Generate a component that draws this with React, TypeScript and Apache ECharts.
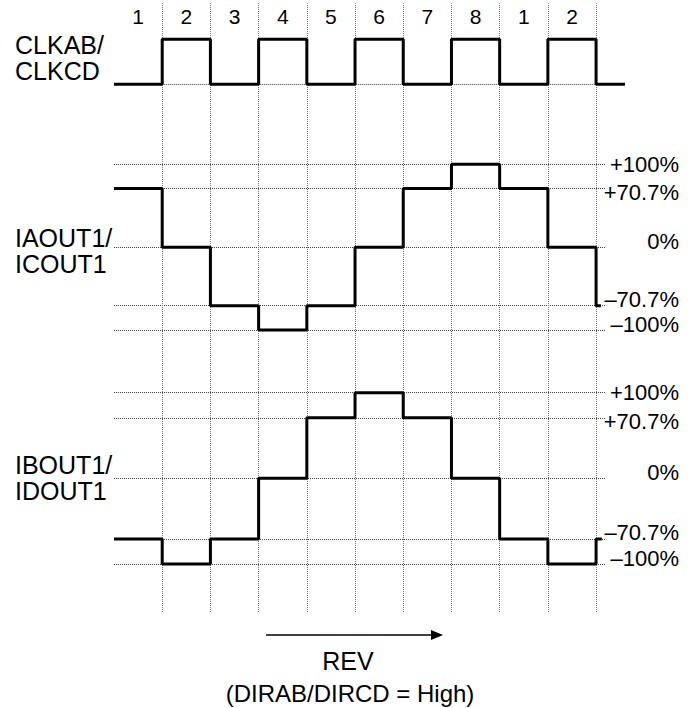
import React, { useEffect, useRef } from "react";
import * as echarts from "echarts";

// ---- data ----
const periodLabels = ["1", "2", "3", "4", "5", "6", "7", "8", "1", "2"];
const clkLevels = [0, 1, 0, 1, 0, 1, 0, 1, 0, 1, 0];
const iaLevels = [70.7, 0, -70.7, -100, -70.7, 0, 70.7, 100, 70.7, 0, -70.7];
const ibLevels = [-70.7, -100, -70.7, 0, 70.7, 100, 70.7, 0, -70.7, -100, -70.7];
const clkTailEnd = 10.6;
const iaTailEnd = 10.1;
const ibTailEnd = 10.12;
const levelTicks = [100, 70.7, 0, -70.7, -100];
const levelLabels = ["+100%", "+70.7%", "0%", "\u201370.7%", "\u2013100%"];
const clockLow = 0;
const gridMarks = [1, 2, 3, 4, 5, 6, 7, 8, 9, 10];
const signalNames = ["CLKAB/\nCLKCD", "IAOUT1/\nICOUT1", "IBOUT1/\nIDOUT1"];
const directionLabel = "REV";
const directionNote = "(DIRAB/DIRCD = High)";

const FONT = "'Liberation Sans', Arial, sans-serif";
const X_MAX = 10.6;
const LEVEL_END = 10.2;

function toSteps(levels: number[], tailEnd: number) {
  const pts: number[][] = levels.map((v, i) => [i, v]);
  pts.push([tailEnd, levels[levels.length - 1]]);
  return pts;
}

function levelLabel(v: number) {
  const i = levelTicks.indexOf(v);
  const t = i >= 0 ? levelLabels[i] : "";
  if (v === 100) return t;
  if (v > 0) return `{p|${t}}`;
  return `{n|${t}}`;
}

export default function App() {
  const ref = useRef<HTMLDivElement>(null);
  useEffect(() => {
    document.body.style.margin = "0";
    const chart = echarts.init(ref.current!, undefined, { renderer: "svg" });
    const gridBase = { left: 114, width: 511 };
    const hidden = { show: false };
    const valueX = (gi: number, extra: any = {}) => ({
      type: "value",
      gridIndex: gi,
      min: 0,
      max: X_MAX,
      axisLine: hidden,
      axisTick: hidden,
      splitLine: hidden,
      axisLabel: hidden,
      ...extra,
    });
    const levelAxis = (gi: number) => ({
      type: "value",
      gridIndex: gi,
      min: -100,
      max: 100,
      position: "right",
      axisLine: hidden,
      axisTick: hidden,
      splitLine: hidden,
      axisLabel: {
        customValues: levelTicks,
        formatter: (v: number) => levelLabel(v),
        align: "right",
        margin: 54,
        fontSize: 22,
        fontFamily: FONT,
        color: "#000",
        rich: {
          p: { fontSize: 22, fontFamily: FONT, color: "#000", padding: [7, 0, 0, 0] },
          n: { fontSize: 22, fontFamily: FONT, color: "#000", padding: [0, 0, 12, 0] },
        },
      },
    });
    const hLines = (levels: number[], end: number, start: number) => ({
      silent: true,
      symbol: "none",
      label: { show: false },
      lineStyle: { color: "#444", type: "dotted", width: 1 },
      data: levels.map((v) => [{ coord: [start, v] }, { coord: [end, v] }]),
    });
    const signal = (gi: number, data: number[][], markLine: any) => ({
      type: "line",
      xAxisIndex: gi,
      yAxisIndex: gi,
      data,
      step: "end",
      showSymbol: false,
      clip: false,
      z: 5,
      lineStyle: { color: "#000", width: 3 },
      markLine: { ...markLine, z: 2 },
    });

    chart.setOption({
      animation: false,
      grid: [
        { ...gridBase, top: 2, height: 610 },
        { ...gridBase, top: 39.3, height: 45 },
        { ...gridBase, top: 164.3, height: 165.7 },
        { ...gridBase, top: 392.7, height: 171.3 },
      ],
      xAxis: [
        valueX(0),
        valueX(1, {
          position: "top",
          axisLabel: {
            customValues: periodLabels.map((_, i) => i + 0.5),
            formatter: (v: number) => periodLabels[Math.floor(v)],
            margin: 23,
            verticalAlign: "middle",
            fontSize: 21,
            fontFamily: FONT,
            color: "#000",
          },
        }),
        valueX(2),
        valueX(3),
      ],
      yAxis: [
        { type: "value", gridIndex: 0, min: 0, max: 1, show: false },
        { type: "value", gridIndex: 1, min: 0, max: 1, show: false },
        levelAxis(2),
        levelAxis(3),
      ],
      series: [
        {
          type: "line",
          xAxisIndex: 0,
          yAxisIndex: 0,
          data: [],
          z: 1,
          markLine: {
            silent: true,
            symbol: "none",
            label: { show: false },
            lineStyle: { color: "#777", type: "dotted", width: 1 },
            data: gridMarks.map((x) => ({ xAxis: x })),
          },
        },
        signal(1, toSteps(clkLevels, clkTailEnd), hLines([clockLow], 10, 1)),
        signal(2, toSteps(iaLevels, iaTailEnd), hLines(levelTicks, LEVEL_END, 0)),
        signal(3, toSteps(ibLevels, ibTailEnd), hLines(levelTicks, LEVEL_END, 0)),
      ],
      graphic: [
        ...signalNames.map((name, i) => ({
          type: "text",
          x: 15,
          y: [32, 224.5, 452][i],
          style: {
            text: name,
            font: `25px ${FONT}`,
            lineHeight: 26,
            fill: "#000",
            textVerticalAlign: "top",
          },
        })),
        {
          type: "line",
          shape: { x1: 266, y1: 635, x2: 433, y2: 635 },
          style: { stroke: "#000", lineWidth: 1.5 },
        },
        {
          type: "polygon",
          shape: { points: [[443, 635], [431, 630], [431, 640]] },
          style: { fill: "#000" },
        },
        {
          type: "text",
          x: 348,
          y: 661,
          style: {
            text: directionLabel,
            font: `25px ${FONT}`,
            fill: "#000",
            textAlign: "center",
            textVerticalAlign: "middle",
          },
        },
        {
          type: "text",
          x: 350,
          y: 693,
          style: {
            text: directionNote,
            font: `24px ${FONT}`,
            fill: "#000",
            textAlign: "center",
            textVerticalAlign: "middle",
          },
        },
      ],
    });
    return () => chart.dispose();
  }, []);
  return <div ref={ref} style={{ width: 700, height: 708 }} />;
}
